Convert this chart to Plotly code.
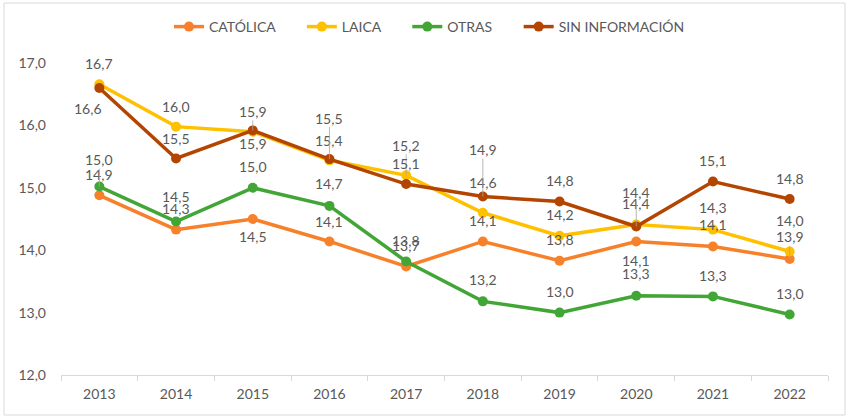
import plotly.graph_objects as go

years = ["2013", "2014", "2015", "2016", "2017", "2018", "2019", "2020", "2021", "2022"]
catolica = [14.88, 14.33, 14.50, 14.14, 13.74, 14.14, 13.83, 14.14, 14.06, 13.86]
laica = [16.66, 15.98, 15.90, 15.44, 15.20, 14.60, 14.23, 14.41, 14.33, 13.98]
otras = [15.02, 14.46, 15.00, 14.71, 13.82, 13.18, 13.00, 13.27, 13.26, 12.97]
sin_info = [16.60, 15.47, 15.92, 15.46, 15.06, 14.86, 14.78, 14.38, 15.10, 14.82]
series_names = ["CATÓLICA", "LAICA", "OTRAS", "SIN INFORMACIÓN"]

# label placement (pixel offsets relative to each point) and leader-line flags
label_dy = {
    "CATÓLICA": [-21, -21, 17, -20, -21, -21, -21, 19, -22, -22],
    "LAICA": [-21, -20, 12, -20, -30, -30, -21, -21, -22, -31],
    "OTRAS": [-27, -25, -21, -22, -21, -22, -21, -22, -21, -21],
    "SIN INFORMACIÓN": [21, -20, -19, -41, -21, -47, -21, -34, -21, -21],
}
label_dx = {
    "CATÓLICA": [0] * 10,
    "LAICA": [0] * 10,
    "OTRAS": [0] * 10,
    "SIN INFORMACIÓN": [-11, 0, 0, 0, 0, 0, 0, 0, 0, 0],
}
leaders = {
    "CATÓLICA": [0, 0, 0, 0, 0, 0, 0, 0, 0, 1],
    "LAICA": [0, 0, 0, 0, 1, 0, 0, 0, 0, 0],
    "OTRAS": [1, 0, 0, 0, 0, 0, 0, 0, 0, 0],
    "SIN INFORMACIÓN": [0, 0, 1, 1, 0, 1, 0, 1, 0, 0],
}
colors = {
    "CATÓLICA": "#F7812B",
    "LAICA": "#FFC000",
    "OTRAS": "#42A637",
    "SIN INFORMACIÓN": "#B34500",
}
values = {
    "CATÓLICA": catolica,
    "LAICA": laica,
    "OTRAS": otras,
    "SIN INFORMACIÓN": sin_info,
}

FONT = "Lato, 'Noto Sans', sans-serif"
TXT = "#595959"
PAD = "\u00a0" * 6  # extra spacing after legend entries

fig = go.Figure()
annotations = []
for name in series_names:
    vals = values[name]
    fig.add_trace(go.Scatter(
        x=years, y=vals, name=name + PAD, mode="lines+markers",
        line=dict(color=colors[name], width=3.5),
        marker=dict(color=colors[name], size=10),
    ))
    for i, v in enumerate(vals):
        lead = leaders[name][i]
        annotations.append(dict(
            x=i, y=v, xref="x", yref="y",  # category index on the x axis
            text=f"{v:.1f}".replace(".", ","),
            showarrow=True, arrowhead=0, arrowwidth=0.8,
            arrowcolor="#A6A6A6" if lead else "rgba(0,0,0,0)",
            standoff=0, ax=label_dx[name][i], ay=label_dy[name][i],
            font=dict(family=FONT, size=14, color=TXT),
            bgcolor="rgba(0,0,0,0)", borderpad=0,
        ))

W, H = 848, 417
L, R, T, B = 61, 20, 63, 42
pw, ph = W - L - R, H - T - B

shapes = [dict(
    type="rect", xref="paper", yref="paper",
    x0=(4 - L) / pw, x1=(845 - L) / pw,
    y0=-(415 - (H - B)) / ph, y1=((H - B) - 3) / ph,
    line=dict(color="#D9D9D9", width=1), fillcolor="rgba(0,0,0,0)", layer="below",
)]

fig.update_layout(
    width=W, height=H,
    margin=dict(l=L, r=R, t=T, b=B, autoexpand=False),
    paper_bgcolor="white", plot_bgcolor="white",
    separators=",.",
    font=dict(family=FONT, size=14, color=TXT),
    showlegend=True,
    legend=dict(
        orientation="h", xref="container", yref="container",
        x=440 / W, xanchor="center", y=1 - 27 / H, yanchor="middle",
        font=dict(family=FONT, size=14, color=TXT),
        itemwidth=30, traceorder="normal",
    ),
    annotations=annotations,
    shapes=shapes,
    xaxis=dict(
        type="category", range=[-0.5, len(years) - 0.5],
        showgrid=False, showline=True, linecolor="#D9D9D9", linewidth=1,
        ticks="outside", tickson="boundaries", ticklen=5, tickcolor="#D9D9D9",
        ticklabelstandoff=6,
        tickfont=dict(family=FONT, size=14, color=TXT), zeroline=False,
    ),
    yaxis=dict(
        range=[12, 17], dtick=1, tickformat=".1f", showgrid=False, showline=False,
        zeroline=False, ticks="", ticklabelstandoff=14,
        tickfont=dict(family=FONT, size=14, color=TXT),
    ),
)

fig.write_html("out.html", config={"displayModeBar": False},
               post_script="document.body.style.margin='0';")
